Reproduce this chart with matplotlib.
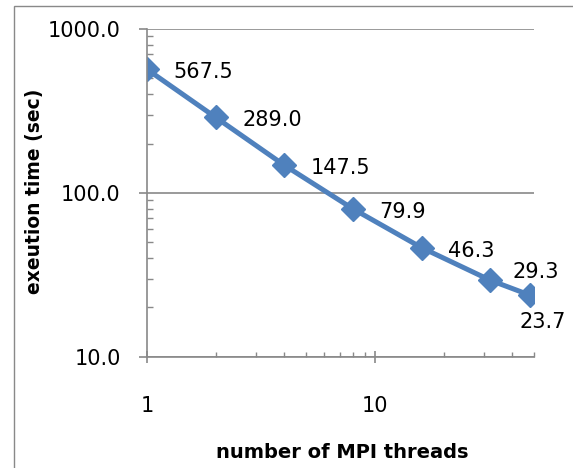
import matplotlib
matplotlib.use('Agg')
from matplotlib import pyplot as plt
from matplotlib.ticker import FixedLocator, FuncFormatter, NullFormatter
from matplotlib.patches import Rectangle

threads = [1, 2, 4, 8, 16, 32, 48]
times = [567.5, 289.0, 147.5, 79.9, 46.3, 29.3, 23.7]
labels = ['567.5', '289.0', '147.5', '79.9', '46.3', '29.3', '23.7']

plt.rcParams['font.family'] = ['DejaVu Sans']
grey = '#898989'
blue = '#4F81BD'

W, H = 573, 468
fig = plt.figure(figsize=(W / 100, H / 100), dpi=100)

# outer chart border (only top/left visible in the reference)
fig.patches.append(Rectangle((13.5 / W, -0.1), 1.2, 1 - 6.5 / H + 0.1,
                             transform=fig.transFigure, fill=False,
                             edgecolor=grey, linewidth=1.0))

x0, x10 = 147.0, 375.0
dec = x10 - x0
ax = fig.add_axes([x0 / W, 1 - 356.7 / H, dec * 1.699 / W, (356.7 - 29) / H])
ax.set_xscale('log')
ax.set_yscale('log')
ax.set_xlim(1, 50)
ax.set_ylim(10, 1000)

ax.plot(threads, times, color=blue, linewidth=3.6, marker='D',
        markersize=12, markerfacecolor=blue, markeredgecolor=blue)

for i, (x, y, s) in enumerate(zip(threads, times, labels)):
    if i == 5:
        ax.annotate(s, (x, y), xytext=(16, 6), textcoords='offset points',
                    ha='left', va='center', fontsize=15)
    elif i == 6:
        ax.annotate(s, (x, y), xytext=(9, -19), textcoords='offset points',
                    ha='center', va='center', fontsize=15)
    else:
        ax.annotate(s, (x, y), xytext=(19, -2.2), textcoords='offset points',
                    ha='left', va='center', fontsize=15)

ax.yaxis.set_major_locator(FixedLocator([10, 100, 1000]))
ax.yaxis.set_major_formatter(FuncFormatter(lambda v, p: '%.1f' % v))
ax.yaxis.set_minor_formatter(NullFormatter())
ax.xaxis.set_major_locator(FixedLocator([1, 10]))
ax.xaxis.set_major_formatter(FuncFormatter(lambda v, p: '%d' % v))
ax.xaxis.set_minor_locator(FixedLocator([2, 3, 4, 5, 6, 7, 8, 9, 20, 30, 40, 50]))
ax.xaxis.set_minor_formatter(NullFormatter())

ax.grid(axis='y', which='major', color=grey, linewidth=1.2)
for sp in ['top', 'right']:
    ax.spines[sp].set_visible(False)
for sp in ['left', 'bottom']:
    ax.spines[sp].set_color(grey)
    ax.spines[sp].set_linewidth(1.2)

ax.tick_params(axis='y', which='major', direction='out', length=6,
               color=grey, width=1.2, labelsize=15, pad=13)
ax.tick_params(axis='y', which='minor', direction='in', length=4,
               color=grey, width=1.0)
ax.tick_params(axis='x', which='major', direction='inout', length=8,
               color=grey, width=1.2, labelsize=15, pad=24)
ax.tick_params(axis='x', which='minor', direction='in', length=3.5,
               color=grey, width=1.0)

fig.text(342 / W, 1 - 453 / H, 'number of MPI threads', ha='center',
         va='center', fontsize=14, fontweight='bold')
fig.text(35 / W, 1 - 191 / H, 'exeution time (sec)', ha='center',
         va='center', rotation=90, fontsize=13.5, fontweight='bold')

fig.savefig('out.png', dpi=100)
